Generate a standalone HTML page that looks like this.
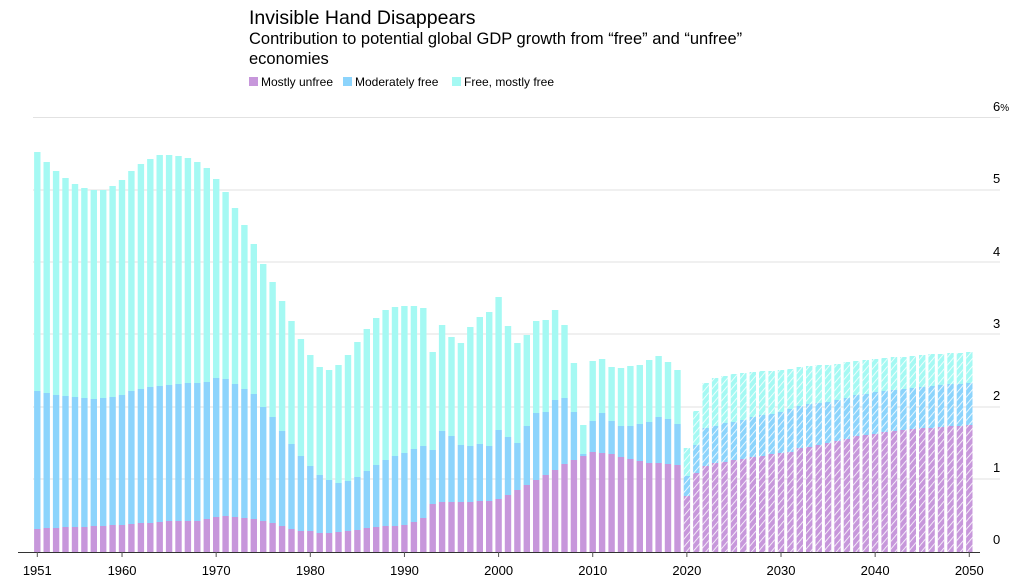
<!DOCTYPE html>
<html><head><meta charset="utf-8"><style>
body{margin:0;background:#fff;width:1024px;height:588px;overflow:hidden;font-family:"Liberation Sans",Arial,sans-serif}
svg{position:absolute;left:0;top:0}
</style></head><body>
<svg width="1024" height="588" xmlns="http://www.w3.org/2000/svg">
<defs>
<pattern id="h" patternUnits="userSpaceOnUse" width="5" height="5" patternTransform="rotate(40)">
<rect width="5" height="5" fill="none"/><line x1="0" y1="0" x2="0" y2="5" stroke="#fff" stroke-width="1.6"/>
</pattern>
</defs>
<text x="249" y="24" font-size="19.5" fill="#000">Invisible Hand Disappears</text>
<text x="249" y="44" font-size="16.5" fill="#000">Contribution to potential global GDP growth from “free” and “unfree”</text>
<text x="249" y="64" font-size="16.5" fill="#000">economies</text>
<rect x="249" y="77" width="9" height="9" fill="#c797db"/><text x="261" y="86" font-size="12">Mostly unfree</text>
<rect x="343" y="77" width="9" height="9" fill="#8cd4fc"/><text x="355" y="86" font-size="12">Moderately free</text>
<rect x="452" y="77" width="9" height="9" fill="#a5f9f3"/><text x="464" y="86" font-size="12">Free, mostly free</text>
<g stroke="#e2e2e2" stroke-width="1">
<line x1="33" x2="1000" y1="117.5" y2="117.5"/><line x1="33" x2="1000" y1="190" y2="190"/>
<line x1="33" x2="1000" y1="262" y2="262"/><line x1="33" x2="1000" y1="334" y2="334"/>
<line x1="33" x2="1000" y1="407" y2="407"/><line x1="33" x2="1000" y1="479" y2="479"/>
</g>
<g id="bars"></g>
<line x1="18" x2="980" y1="552.5" y2="552.5" stroke="#333" stroke-width="1"/>
<g font-size="13" fill="#000">
<text x="993" y="111">6<tspan font-size="10">%</tspan></text>
<text x="993" y="183">5</text><text x="993" y="256">4</text><text x="993" y="328">3</text>
<text x="993" y="400">2</text><text x="993" y="472">1</text><text x="993" y="544">0</text>
</g>
<g id="xl" font-size="13" text-anchor="middle"></g>
</svg>
<script>
var T=[152,162,171,178,184,188,190,190,186,180,171,164,159,155,155,156,158,162,168,179,192,208,225,244,264,282,301,321,339,355,367,370,365,355,342,329,318,310,307,306,306,308,352,325,337,343,327,317,312,297,326,343,335,321,320,310,325,363,425,361,359,367,368,366,365,360,356,362,370,448,411,383,378,376,374,373,372,371,371,370,369,367,366,365,365,364,362,361,360,359,358,357,357,356,355,354,354,353,353,352];
var B=[391,393,395,396,397,398,399,398,397,395,391,389,387,386,385,384,383,383,382,378,379,384,389,394,407,417,431,444,456,466,475,480,483,481,477,471,465,460,456,453,449,446,450,431,436,445,446,444,446,430,437,443,426,413,412,400,398,412,454,421,413,421,426,426,424,422,417,419,424,476,445,428,426,423,422,420,417,415,414,412,409,406,404,403,402,400,398,395,394,392,391,390,389,388,387,386,385,384,384,383];
var P=[529,528,528,527,527,527,526,526,525,525,524,523,523,522,521,521,521,521,519,517,516,517,518,519,521,523,526,529,531,531,533,533,532,531,530,528,527,526,526,525,522,518,504,502,502,502,502,501,501,499,495,490,485,480,475,470,464,460,456,452,453,454,457,459,461,463,463,464,465,496,473,466,463,462,460,459,457,456,454,453,452,448,447,445,443,441,439,436,435,434,432,431,430,429,428,428,427,426,426,425];
var s='',base=552;
for(var i=0;i<100;i++){
 var x=(37.3+i*9.414-3.2).toFixed(1),w=6.4;
 s+='<rect x="'+x+'" y="'+T[i]+'" width="'+w+'" height="'+(B[i]-T[i])+'" fill="#a5f9f3"/>';
 s+='<rect x="'+x+'" y="'+B[i]+'" width="'+w+'" height="'+(P[i]-B[i])+'" fill="#8cd4fc"/>';
 s+='<rect x="'+x+'" y="'+P[i]+'" width="'+w+'" height="'+(base-P[i])+'" fill="#c797db"/>';
 if(i>=69) s+='<rect x="'+x+'" y="'+T[i]+'" width="'+w+'" height="'+(base-T[i])+'" fill="url(#h)"/>';
}
document.getElementById('bars').innerHTML=s;
var yrs=[1951,1960,1970,1980,1990,2000,2010,2020,2030,2040,2050],t='';
yrs.forEach(function(y){var x=37.3+(y-1951)*9.414;
 t+='<line x1="'+x+'" x2="'+x+'" y1="552" y2="557" stroke="#555"/><text x="'+x+'" y="575">'+y+'</text>';});
document.getElementById('xl').innerHTML=t;
</script>
</body></html>
